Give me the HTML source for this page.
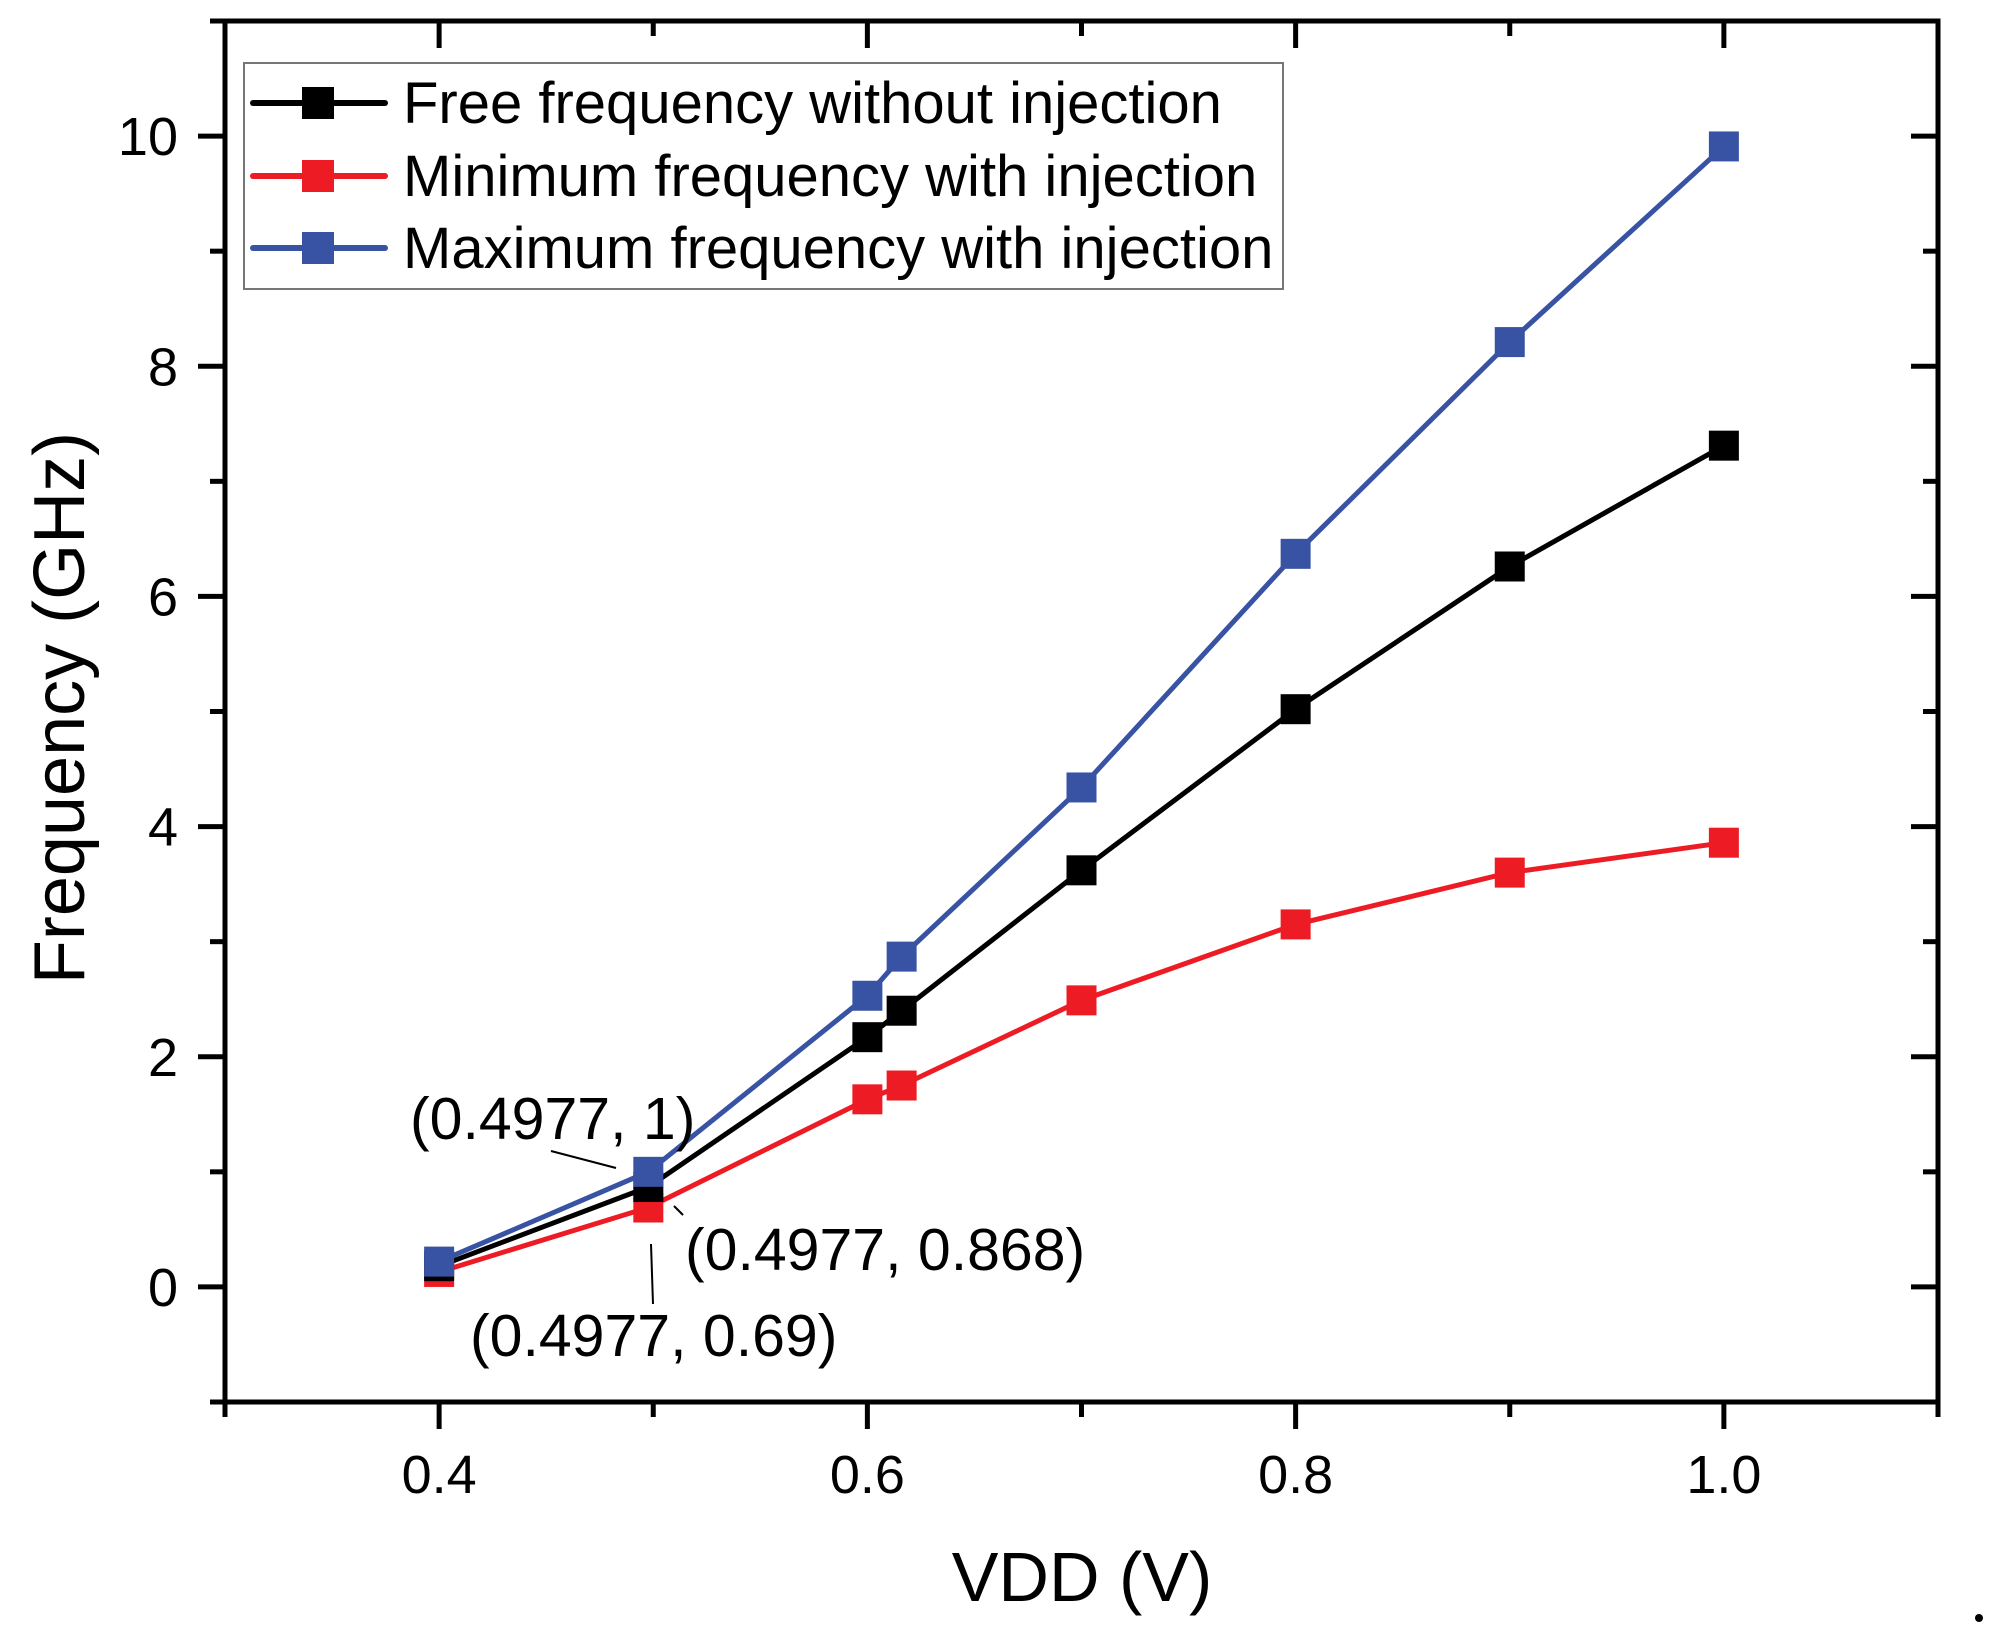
<!DOCTYPE html>
<html><head><meta charset="utf-8"><style>
html,body{margin:0;padding:0;background:#fff;}
svg{display:block;font-family:"Liberation Sans",Arial,sans-serif;}
</style></head><body>
<svg id="chart" width="2001" height="1644" viewBox="0 0 2001 1644">
<g id="axes"></g>
<g id="series"></g>
<g id="legend"></g>
<text x="1082" y="1601" font-size="70" text-anchor="middle">VDD (V)</text>
<text transform="translate(84,708) rotate(-90)" font-size="72" text-anchor="middle">Frequency (GHz)</text>
<g font-size="59">
<text x="410" y="1139">(0.4977, 1)</text>
<text x="685" y="1270">(0.4977, 0.868)</text>
<text x="470" y="1356">(0.4977, 0.69)</text>
<line x1="551" y1="1151" x2="616" y2="1168" stroke="#000" stroke-width="2"/>
<line x1="674" y1="1206" x2="683" y2="1215" stroke="#000" stroke-width="2"/>
<line x1="651" y1="1244" x2="653" y2="1304" stroke="#000" stroke-width="2"/>
</g>
<circle cx="1979" cy="1618" r="4" fill="#000"/>
</svg>
<script>
const xVals = [0.4, 0.4977, 0.6, 0.616, 0.7, 0.8, 0.9, 1.0];
const freeFreq = [0.18, 0.868, 2.17, 2.4, 3.62, 5.02, 6.26, 7.31];
const minFreq = [0.13, 0.69, 1.63, 1.75, 2.49, 3.15, 3.6, 3.86];
const maxFreq = [0.22, 1.0, 2.53, 2.87, 4.34, 6.37, 8.21, 9.91];
const xTicks = [0.4, 0.6, 0.8, 1.0];
const xTickLabels = ["0.4", "0.6", "0.8", "1.0"];
const yTicks = [0, 2, 4, 6, 8, 10];
const yTickLabels = ["0", "2", "4", "6", "8", "10"];
const seriesNames = ["Free frequency without injection", "Minimum frequency with injection", "Maximum frequency with injection"];

const NS = "http://www.w3.org/2000/svg";
const L = 225, R = 1938, T = 21, B = 1402;
const X0 = 0.3, X1 = 1.1, Y0 = -1, Y1 = 11;
function sx(v){ return L + (v - X0) / (X1 - X0) * (R - L); }
function sy(v){ return B - (v - Y0) / (Y1 - Y0) * (B - T); }
function mk(tag, attrs, parent){
  const e = document.createElementNS(NS, tag);
  for (const k in attrs) e.setAttribute(k, attrs[k]);
  parent.appendChild(e);
  return e;
}
const axes = document.getElementById('axes');
let fr = mk('rect', {x:L, y:T, width:R-L, height:B-T, fill:'none', stroke:'#000', 'stroke-width':5}, axes);



for (let i = 0; i <= 8; i++) {
  const v = X0 + i * 0.1;
  const major = xTicks.some(t => Math.abs(t - v) < 1e-6);
  const len = major ? 27 : 15;
  const x = sx(v);
  let t1 = mk('line', {x1:x, y1:B, x2:x, y2:B+len, stroke:'#000', 'stroke-width':5}, axes);
  
  
  let t2 = mk('line', {x1:x, y1:T, x2:x, y2:T+len, stroke:'#000', 'stroke-width':5}, axes);
  
  
}
xTicks.forEach((v, i) => {
  const t = mk('text', {x:sx(v), y:1493, 'font-size':54, 'text-anchor':'middle'}, axes);
  t.textContent = xTickLabels[i];
  
  
});
for (let v = -1; v <= 11; v++) {
  const major = yTicks.indexOf(v) >= 0;
  const len = major ? 27 : 15;
  const y = sy(v);
  let t1 = mk('line', {x1:L-len, y1:y, x2:L, y2:y, stroke:'#000', 'stroke-width':5}, axes);
  
  
  let t2 = mk('line', {x1:R-len, y1:y, x2:R, y2:y, stroke:'#000', 'stroke-width':5}, axes);
  
  
}
yTicks.forEach((v, i) => {
  const t = mk('text', {x:178, y:sy(v)+19, 'font-size':54, 'text-anchor':'end'}, axes);
  t.textContent = yTickLabels[i];
  
  
});

const series = document.getElementById('series');
const colors = ['#000000', '#ed1c24', '#3953a4'];
const datasets = [freeFreq, minFreq, maxFreq];
const order = [1, 0, 2];
order.forEach(si => {
  const g = mk('g', {}, series);
  
  
  const pts = xVals.map((x, i) => sx(x) + ',' + sy(datasets[si][i])).join(' ');
  const pl = mk('polyline', {points:pts, fill:'none', stroke:colors[si], 'stroke-width':5, 'stroke-linejoin':'round'}, g);
  
  
  xVals.forEach((x, i) => {
    const m = mk('rect', {x:sx(x)-15, y:sy(datasets[si][i])-15, width:30, height:30, fill:colors[si]}, g);
    
    
  });
});

const legend = document.getElementById('legend');
const lb = mk('rect', {x:244, y:63, width:1039, height:226, fill:'#fff', stroke:'#777', 'stroke-width':2}, legend);


const rowsY = [103, 176, 248];
seriesNames.forEach((n, i) => {
  const g = mk('g', {}, legend);
  
  
  mk('line', {x1:253, y1:rowsY[i], x2:385, y2:rowsY[i], stroke:colors[i], 'stroke-width':6, 'stroke-linecap':'round'}, g);
  mk('rect', {x:302, y:rowsY[i]-16, width:32, height:32, fill:colors[i]}, g);
  const t = mk('text', {x:403, y:rowsY[i]+20, 'font-size':58}, g);
  t.textContent = n;
  
  
});
</script>
</body></html>
